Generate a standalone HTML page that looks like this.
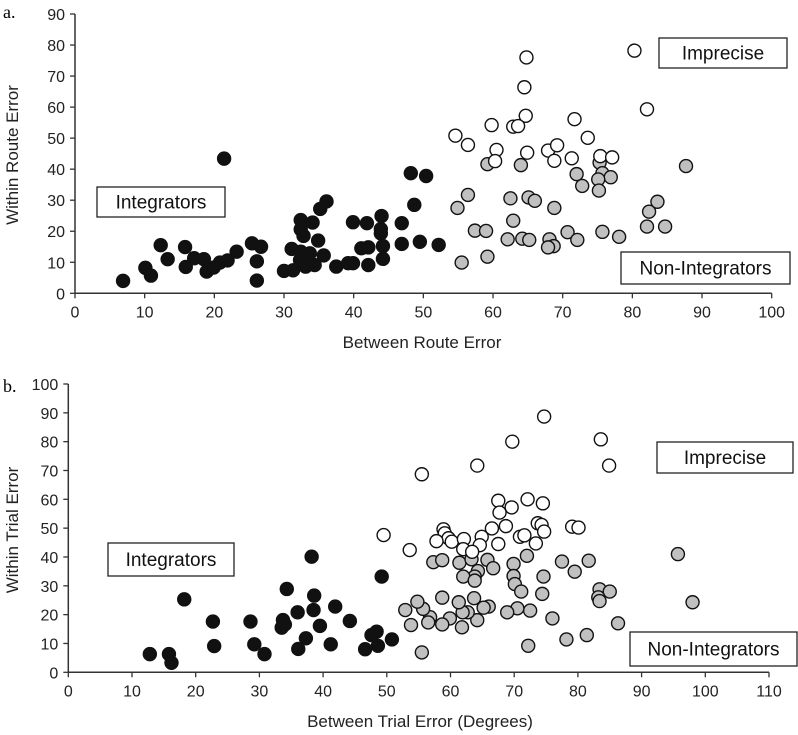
<!DOCTYPE html>
<html><head><meta charset="utf-8">
<style>
html,body{margin:0;padding:0;background:#fff;}
svg{display:block;font-family:"Liberation Sans",sans-serif;}
</style></head>
<body>
<svg id="chart" width="798" height="735" viewBox="0 0 798 735" xmlns="http://www.w3.org/2000/svg">
<text x="3" y="18" font-family="Liberation Serif" font-size="18">a.</text>
<text x="3" y="392" font-family="Liberation Serif" font-size="18">b.</text>
</svg>
<script>
// Panel A data
const aIntX=[6.9,10.1,10.9,12.3,13.3,15.8,15.9,17.1,18.5,18.9,19.9,20.8,21.9,21.4,23.2,25.4,26.1,26.1,26.7,30.0,31.3,31.1,32.4,32.4,32.8,32.4,32.3,33.1,33.7,34.1,34.4,34.9,35.2,36.1,35.7,37.5,39.2,39.9,39.9,41.1,41.9,42.1,42.1,44.0,43.9,43.9,44.2,44.2,46.9,46.9,48.2,48.7,49.5,50.4,52.2];
const aIntY=[4.0,8.2,5.7,15.5,11.0,14.9,8.5,11.3,11.0,7.0,8.3,9.9,10.6,43.4,13.4,16.1,10.3,4.1,15.0,7.2,7.4,14.3,23.6,20.6,18.5,13.4,10.7,8.6,12.9,22.8,9.1,17.0,27.2,29.6,12.2,8.6,9.7,22.9,9.7,14.5,22.6,14.8,9.1,24.9,20.7,19.3,15.2,11.1,22.6,15.9,38.7,28.5,16.6,37.8,15.6];
const aImpX=[64.8,64.5,64.7,80.3,82.1,59.8,62.9,63.6,71.7,54.6,56.4,60.5,60.3,64.9,67.9,69.2,68.8,71.3,73.6,75.4,77.1];
const aImpY=[76.0,66.4,57.2,78.2,59.3,54.2,53.7,53.9,56.1,50.8,47.8,46.2,42.6,45.3,46.0,47.7,42.7,43.5,50.1,44.2,43.8];
const aNonX=[59.2,64.0,75.3,72.0,75.7,76.9,75.1,72.8,75.2,87.7,56.4,54.9,62.5,65.1,66.0,68.8,62.9,83.6,82.4,82.1,84.7,57.4,59.0,62.1,64.2,65.2,68.1,68.7,67.9,70.7,72.1,75.7,78.1,55.5,59.2];
const aNonY=[41.6,41.3,42.1,38.4,38.7,37.4,36.7,34.6,33.1,41.0,31.7,27.5,30.6,30.9,29.8,27.5,23.4,29.5,26.3,21.5,21.5,20.2,20.1,17.4,17.6,17.2,17.4,15.2,14.8,19.7,17.2,19.8,18.2,9.9,11.8];
const aXTicks=[0,10,20,30,40,50,60,70,80,90,100];
const aYTicks=[0,10,20,30,40,50,60,70,80,90];
// Panel B data
const bIntX=[12.8,15.8,16.2,18.2,22.7,22.9,28.6,29.2,30.8,33.7,33.5,34.0,34.3,36.0,36.1,37.3,38.2,38.6,38.5,39.5,41.2,41.9,44.2,46.6,47.6,48.4,48.6,49.2,50.8];
const bIntY=[6.3,6.3,3.3,25.3,17.6,9.1,17.6,9.7,6.3,18.1,15.5,16.6,28.9,20.8,8.1,11.8,40.1,26.6,21.6,16.1,9.7,22.8,17.8,8.0,12.9,14.1,9.2,33.2,11.4];
const bImpX=[74.7,69.7,83.6,84.9,64.2,55.5,67.5,72.1,74.5,69.6,67.7,66.5,68.7,73.7,74.3,74.7,79.1,80.1,58.9,59.1,59.7,60.2,57.8,62.1,62.0,64.9,64.6,67.5,70.9,71.6,73.4,53.6,63.4,49.5];
const bImpY=[88.7,80.0,80.8,71.7,71.7,68.7,59.5,60.0,58.6,57.2,55.4,49.9,50.7,51.7,51.1,48.8,50.5,50.2,49.6,48.2,46.5,45.3,45.5,46.2,42.7,47.0,44.1,44.5,47.0,47.5,44.7,42.4,41.8,47.6];
const bNonX=[95.7,98.0,57.3,58.7,61.4,63.3,65.8,66.7,64.3,63.8,62.0,63.8,69.9,69.9,70.1,71.1,72.0,74.6,74.4,77.5,79.5,81.7,83.4,85.0,83.2,83.4,86.3,81.4,78.2,72.2,76.0,72.5,70.5,68.9,66.0,65.2,63.7,64.2,62.7,61.9,61.3,61.8,59.9,58.7,58.7,56.8,56.5,55.7,54.8,52.9,53.8,55.5];
const bNonY=[41.0,24.3,38.2,38.9,38.0,39.2,39.0,36.1,35.1,33.2,33.2,31.8,37.6,33.4,30.6,28.0,40.4,33.2,27.2,38.4,34.9,38.7,28.8,28.0,26.0,24.7,17.0,12.9,11.4,9.2,18.7,21.4,22.2,20.8,22.8,22.4,25.7,18.1,20.8,20.8,24.3,15.6,18.7,16.6,25.9,19.1,17.3,22.0,24.5,21.6,16.4,6.9];
const bXTicks=[0,10,20,30,40,50,60,70,80,90,100,110];
const bYTicks=[0,10,20,30,40,50,60,70,80,90,100];

const svg=document.getElementById('chart');
const NS='http://www.w3.org/2000/svg';
function mk(tag,attrs,parent){const e=document.createElementNS(NS,tag);for(const k in attrs)e.setAttribute(k,attrs[k]);(parent||svg).appendChild(e);return e;}

function panel(p){
  const sx=v=>p.x0+(v-p.xmin)/(p.xmax-p.xmin)*(p.x1-p.x0);
  const sy=v=>p.y0-(v-p.ymin)/(p.ymax-p.ymin)*(p.y0-p.y1);
  const g=mk('g',{});
  
  
  const ax=mk('line',{x1:p.x0,y1:p.y0,x2:p.x1,y2:p.y0,stroke:'#333','stroke-width':1.5},g);
  
  
  const ay=mk('line',{x1:p.x0,y1:p.y0,x2:p.x0,y2:p.y1,stroke:'#333','stroke-width':1.5},g);
  
  
  p.xt.forEach(v=>{
    const x=sx(v);
    mk('line',{x1:x,y1:p.y0,x2:x,y2:p.y0+5,stroke:'#333','stroke-width':1.3},g);
    const t=mk('text',{x:x,y:p.y0+24,'text-anchor':'middle','font-size':16,fill:'#222'},g);
    t.textContent=v;
    
    
  });
  p.yt.forEach(v=>{
    const y=sy(v);
    mk('line',{x1:p.x0-5,y1:y,x2:p.x0,y2:y,stroke:'#333','stroke-width':1.3},g);
    const t=mk('text',{x:p.x0-10,y:y+6,'text-anchor':'end','font-size':16,fill:'#222'},g);
    t.textContent=v;
    
    
  });
  const xt=mk('text',{x:p.xtx,y:p.xty,'text-anchor':'middle','font-size':17,fill:'#222'},g);
  xt.textContent=p.xtitle;
  
  
  const yt=mk('text',{x:0,y:0,'text-anchor':'middle','font-size':17,fill:'#222',transform:`translate(${p.ytx},${p.yty}) rotate(-90)`},g);
  yt.textContent=p.ytitle;
  
  
  const series=[[p.nonX,p.nonY,'#c0c0c0','non-integrator-point'],[p.impX,p.impY,'#ffffff','imprecise-point'],[p.intX,p.intY,'#111','integrator-point']];
  series.forEach(s=>{
    s[0].forEach((v,i)=>{
      const c=mk('circle',{cx:sx(v),cy:sy(s[1][i]),r:6.5,fill:s[2],stroke:'#111','stroke-width':1.4},g);
      
      
    });
  });
  p.boxes.forEach(b=>{
    const r=mk('rect',{x:b[0],y:b[1],width:b[2],height:b[3],fill:'#fff',stroke:'#222','stroke-width':1.3},g);
    
    
    const t=mk('text',{x:b[0]+b[2]/2,y:b[1]+b[3]/2+6.5,'text-anchor':'middle','font-size':19,fill:'#111'},g);
    t.textContent=b[4];
    
    
  });
}

panel({name:'panel-a',x0:75,x1:771.7,y0:293.3,y1:14,xmin:0,xmax:100,ymin:0,ymax:90,
  xt:aXTicks,yt:aYTicks,intX:aIntX,intY:aIntY,impX:aImpX,impY:aImpY,nonX:aNonX,nonY:aNonY,
  xtitle:'Between Route Error',xtx:422,xty:348,ytitle:'Within Route Error',ytx:18,yty:155,
  boxes:[[97,187,128,30,'Integrators','integrators'],[659,38,128,30,'Imprecise','imprecise'],[621,252,169,32,'Non-Integrators','non-integrators']]});

panel({name:'panel-b',x0:68.3,x1:769,y0:672.3,y1:384,xmin:0,xmax:110,ymin:0,ymax:100,
  xt:bXTicks,yt:bYTicks,intX:bIntX,intY:bIntY,impX:bImpX,impY:bImpY,nonX:bNonX,nonY:bNonY,
  xtitle:'Between Trial Error (Degrees)',xtx:420,xty:727,ytitle:'Within Trial Error',ytx:18,yty:530,
  boxes:[[108,543,126,33,'Integrators','integrators'],[657,442,136,31,'Imprecise','imprecise'],[630,632,167,34,'Non-Integrators','non-integrators']]});
</script>
</body></html>
